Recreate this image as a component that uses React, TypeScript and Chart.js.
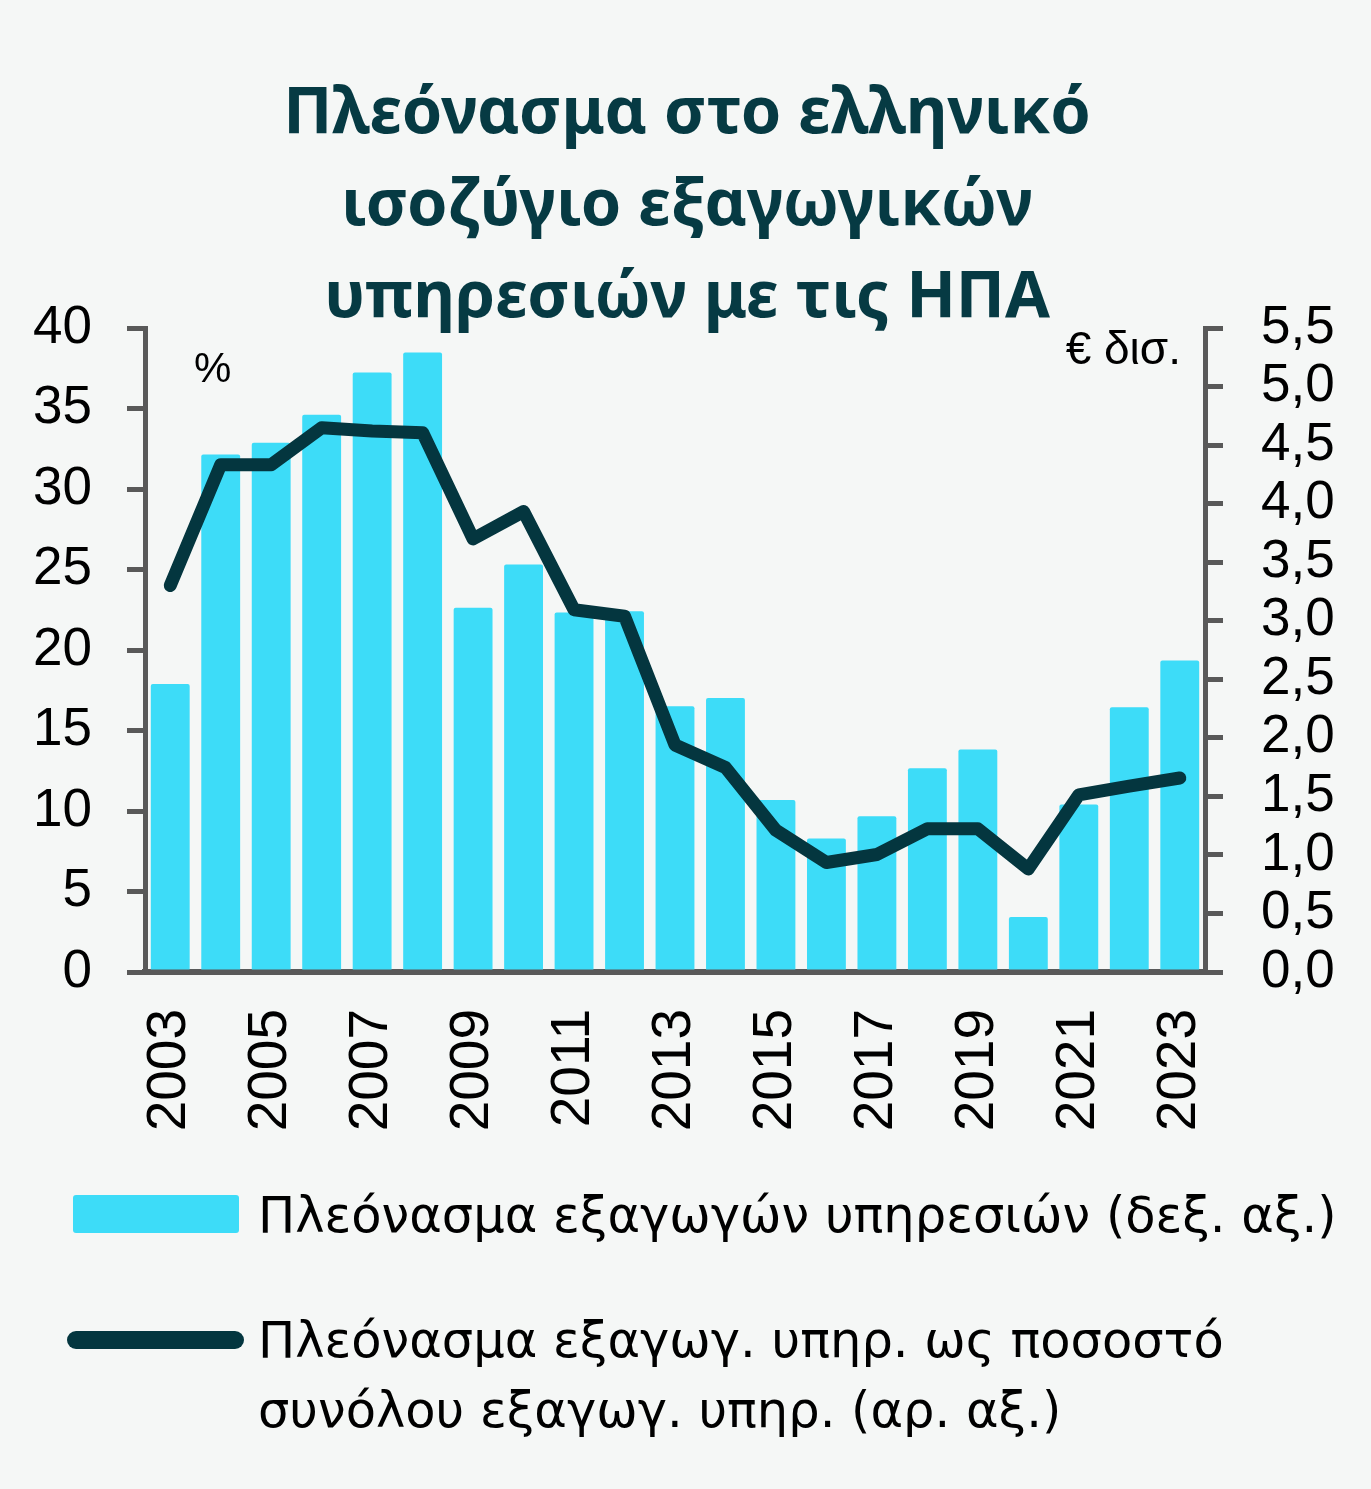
import React, { useEffect, useRef } from "react";
import { Chart, registerables } from "chart.js";

Chart.register(...registerables);

// ---- data ----
const years = [
  "2003", "2004", "2005", "2006", "2007", "2008", "2009", "2010", "2011", "2012",
  "2013", "2014", "2015", "2016", "2017", "2018", "2019", "2020", "2021", "2022", "2023",
];
// bars: services export surplus, € bn (right axis)
const exportSurplusBn = [
  2.46, 4.42, 4.52, 4.76, 5.12, 5.29, 3.11, 3.48, 3.07, 3.08,
  2.27, 2.34, 1.47, 1.14, 1.33, 1.74, 1.9, 0.47, 1.43, 2.26, 2.66,
];
// line: surplus as % of total services exports (left axis)
const surplusSharePct = [
  24.0, 31.5, 31.5, 33.8, 33.6, 33.5, 26.9, 28.6, 22.5, 22.1,
  14.1, 12.7, 8.8, 6.8, 7.3, 8.9, 8.9, 6.4, 11.0, 11.55, 12.05,
];

const titleLines = ["Πλεόνασμα στο ελληνικό", "ισοζύγιο εξαγωγικών", "υπηρεσιών με τις ΗΠΑ"];
const barLabel = "Πλεόνασμα εξαγωγών υπηρεσιών (δεξ. αξ.)";
const lineLabel = ["Πλεόνασμα εξαγωγ. υπηρ. ως ποσοστό", "συνόλου εξαγωγ. υπηρ. (αρ. αξ.)"];
const leftUnit = "%";
const rightUnit = "€ δισ.";

const W = 1371;
const H = 1489;
const BG = "#f5f7f6";
const BAR_COLOR = "#3ddcf8";
const LINE_COLOR = "#04363f";
const TITLE_COLOR = "#063a43";
const AXIS_COLOR = "#595959";
const SANS = '"Liberation Sans", Arial, sans-serif';
const LEGEND_FONT = '"DejaVu Sans", sans-serif';

const decorPlugin = {
  id: "decor",
  beforeDraw(chart: any) {
    const ctx = chart.ctx;
    ctx.save();
    ctx.fillStyle = BG;
    ctx.fillRect(0, 0, chart.width, chart.height);
    ctx.restore();
  },
  afterDraw(chart: any) {
    const ctx = chart.ctx;
    ctx.save();
    // title
    ctx.fillStyle = TITLE_COLOR;
    ctx.font = 'bold 65px "Noto Sans", sans-serif';
    ctx.textAlign = "center";
    ctx.textBaseline = "alphabetic";
    titleLines.forEach((t, i) => ctx.fillText(t, 687, 133 + i * 92));

    // unit labels
    ctx.fillStyle = "#000";
    ctx.font = `42px ${SANS}`;
    ctx.textAlign = "left";
    ctx.fillText(leftUnit, 194, 382);
    ctx.font = `46px ${SANS}`;
    ctx.textAlign = "right";
    ctx.fillText(rightUnit, 1181, 364);

    // legend
    ctx.textAlign = "left";
    ctx.font = `49.5px ${LEGEND_FONT}`;
    ctx.fillStyle = BAR_COLOR;
    ctx.beginPath();
    (ctx as any).roundRect(73, 1195, 166, 38, 3);
    ctx.fill();
    ctx.fillStyle = "#000";
    ctx.fillText(barLabel, 258, 1232);

    ctx.strokeStyle = LINE_COLOR;
    ctx.lineWidth = 18;
    ctx.lineCap = "round";
    ctx.beginPath();
    ctx.moveTo(76, 1340);
    ctx.lineTo(235, 1340);
    ctx.stroke();
    ctx.fillText(lineLabel[0], 258, 1357);
    ctx.fillText(lineLabel[1], 258, 1427);
    ctx.restore();
  },
};

export default function App() {
  const ref = useRef<HTMLCanvasElement | null>(null);

  useEffect(() => {
    document.body.style.margin = "0";
    document.body.style.background = BG;
    const canvas = ref.current;
    if (!canvas) return;
    const chart = new Chart(canvas, {
      type: "bar",
      data: {
        labels: years,
        datasets: [
          {
            type: "line",
            label: lineLabel.join(" "),
            data: surplusSharePct,
            yAxisID: "y",
            borderColor: LINE_COLOR,
            backgroundColor: LINE_COLOR,
            borderWidth: 13,
            pointRadius: 0,
            tension: 0,
            borderCapStyle: "round",
            borderJoinStyle: "round",
            order: 0,
          } as any,
          {
            type: "bar",
            label: barLabel,
            data: exportSurplusBn,
            yAxisID: "y1",
            backgroundColor: BAR_COLOR,
            borderWidth: 0,
            borderRadius: 2,
            barPercentage: 0.77,
            categoryPercentage: 1,
            order: 1,
          } as any,
        ],
      },
      options: {
        responsive: false,
        animation: false,
        devicePixelRatio: 1,
        layout: { padding: { top: 328, bottom: 317, left: 0, right: 0 } },
        plugins: {
          legend: { display: false },
          title: { display: false },
          tooltip: { enabled: false },
        },
        scales: {
          x: {
            offset: true,
            grid: { display: false, drawTicks: false },
            border: { display: true, color: AXIS_COLOR, width: 6 },
            ticks: {
              autoSkip: false,
              maxRotation: 90,
              minRotation: 90,
              padding: 37,
              color: "#000",
              font: { family: SANS, size: 55 },
              callback: (_v: any, i: number) => (i % 2 === 0 ? years[i] : ""),
            },
            afterFit: (s: any) => {
              s.height = 200;
            },
          },
          y: {
            position: "left",
            min: 0,
            max: 40,
            grid: {
              drawOnChartArea: false,
              drawTicks: true,
              tickLength: 18,
              tickColor: AXIS_COLOR,
              tickWidth: 5,
              color: AXIS_COLOR,
              lineWidth: 5,
            },
            border: { display: true, color: AXIS_COLOR, width: 5 },
            ticks: {
              stepSize: 5,
              autoSkip: false,
              padding: 35,
              color: "#000",
              font: { family: SANS, size: 53 },
              callback: (v: any) => String(v),
            },
            afterFit: (s: any) => {
              s.width = 145;
            },
          },
          y1: {
            position: "right",
            min: 0,
            max: 5.5,
            grid: {
              drawOnChartArea: false,
              drawTicks: true,
              tickLength: 18,
              tickColor: AXIS_COLOR,
              tickWidth: 5,
              color: AXIS_COLOR,
              lineWidth: 5,
            },
            border: { display: true, color: AXIS_COLOR, width: 5 },
            ticks: {
              stepSize: 0.5,
              autoSkip: false,
              padding: 38,
              color: "#000",
              font: { family: SANS, size: 53 },
              callback: (v: any) => Number(v).toFixed(1).replace(".", ","),
            },
            afterFit: (s: any) => {
              s.width = W - 1205;
            },
          },
        },
      } as any,
      plugins: [decorPlugin],
    });
    return () => chart.destroy();
  }, []);

  return (
    <div style={{ width: W, height: H, background: BG, position: "relative" }}>
      <canvas ref={ref} width={W} height={H} style={{ width: W, height: H, display: "block" }} />
    </div>
  );
}
